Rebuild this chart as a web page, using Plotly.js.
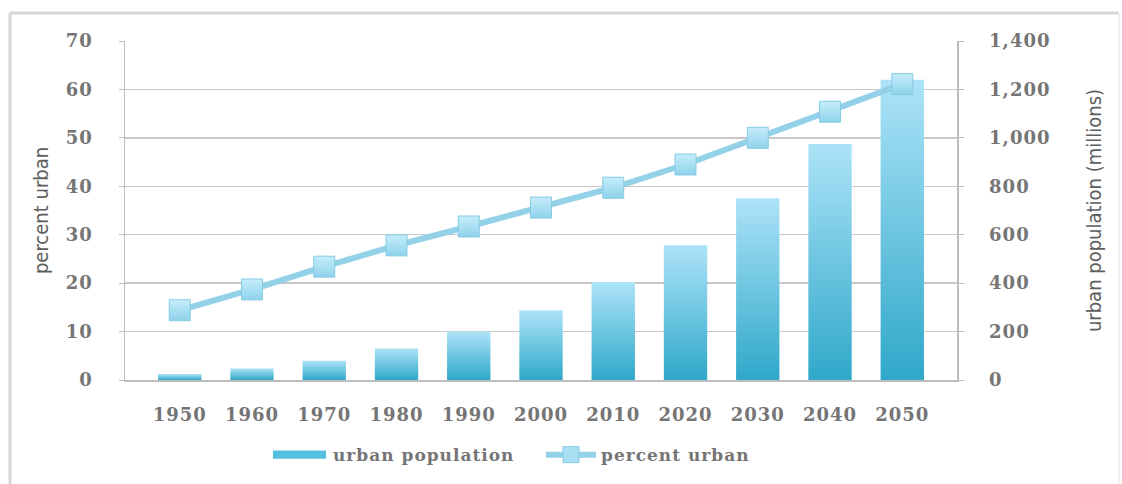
<!DOCTYPE html>
<html><head><meta charset="utf-8">
<script src="https://cdn.plot.ly/plotly-3.0.1.min.js"></script>
<style>
html,body{margin:0;padding:0;background:#fff;}
#chart{width:1122px;height:484px;}
.xtick text,.ytick text,.y2tick text{letter-spacing:1px;}
.legendtext{letter-spacing:1px;}
.barlayer .point path{fill:url(#barGrad) !important;}
.scatterlayer .points path{fill:url(#mkGrad) !important;}
.legend g.traces:first-child .legendpoints path{transform:translateX(20px) scale(5.5,0.7);transform-box:fill-box;transform-origin:center;}
</style></head><body>
<svg width="0" height="0" style="position:absolute">
<defs>
<linearGradient id="barGrad" x1="0" y1="0" x2="0" y2="1">
<stop offset="0" stop-color="#ade3f8"/><stop offset="1" stop-color="#2fa8c9"/>
</linearGradient>
<linearGradient id="mkGrad" x1="0" y1="0" x2="0" y2="1">
<stop offset="0" stop-color="#c6edfb"/><stop offset="1" stop-color="#8ed2eb"/>
</linearGradient>
</defs></svg>
<div id="chart"></div>
<script>
const years = ['1950','1960','1970','1980','1990','2000','2010','2020','2030','2040','2050'];
const urbanPopulation = [25, 48, 80, 130, 200, 288, 405, 556, 751, 975, 1240];
const percentUrban = [14.4, 18.7, 23.4, 27.8, 31.7, 35.6, 39.7, 44.5, 50.0, 55.4, 61.1];
const percentTicks = [0,10,20,30,40,50,60,70];
const popTicks = [0,200,400,600,800,1000,1200,1400];

const tickFont = {family:'DejaVu Serif, Liberation Serif, serif', size:18, color:'#757575', weight:'bold'};
const titleFont = {family:'DejaVu Sans Condensed, Liberation Sans Narrow, Roboto Condensed, sans-serif', size:20, color:'#5e5e5e'};
const axisGray = '#bdbdbd';

const traces = [
  {
    type:'bar', name:'urban population', x:years, y:urbanPopulation, yaxis:'y',
    marker:{color:'#55bfdf'}, hoverinfo:'x+y'
  },
  {
    type:'scatter', mode:'lines+markers', name:'percent urban', x:years, y:percentUrban, yaxis:'y2',
    line:{color:'#93d1e8', width:6},
    marker:{symbol:'square', size:21, color:'#a9dff3', line:{color:'#86cbe4', width:1}},
    hoverinfo:'x+y'
  }
];

const layout = {
  width:1122, height:484,
  margin:{l:125, r:165, t:41, b:103},
  paper_bgcolor:'#ffffff', plot_bgcolor:'#ffffff',
  bargap:0.4,
  showlegend:true,
  xaxis:{
    type:'category', showline:true, linecolor:axisGray, linewidth:1.5,
    ticks:'', showgrid:false, tickfont:tickFont, ticklabelstandoff:18, zeroline:false
  },
  yaxis:{
    side:'right', range:[0,1400], tickvals:popTicks, tickformat:',',
    showgrid:true, gridcolor:'#c8c8c8', gridwidth:1.5,
    showline:true, linecolor:axisGray, linewidth:1.5,
    ticks:'outside', ticklen:5, tickcolor:axisGray,
    tickfont:tickFont, ticklabelstandoff:22, zeroline:false,
    title:{text:'urban population (millions)', font:titleFont, standoff:37}
  },
  yaxis2:{
    side:'left', overlaying:'y', range:[0,70], tickvals:percentTicks,
    showgrid:false, showline:true, linecolor:axisGray, linewidth:1.5,
    ticks:'outside', ticklen:5, tickcolor:axisGray,
    tickfont:tickFont, ticklabelstandoff:22, zeroline:false,
    title:{text:'percent urban', font:titleFont, standoff:12}
  },
  legend:{
    orientation:'h', x:0.5, xanchor:'center', y:-0.218, yanchor:'middle',
    font:{family:'DejaVu Serif, Liberation Serif, serif', size:17, color:'#757575', weight:'bold'},
    itemwidth:50, entrywidth:203, traceorder:'normal', bgcolor:'rgba(0,0,0,0)'
  },
  shapes:[
    {type:'line', xref:'paper', yref:'paper', x0:-0.1382, x1:1.1947, y0:1.0824, y1:1.0824, line:{color:'#d6d6d6', width:3}, layer:'below'},
    {type:'line', xref:'paper', yref:'paper', x0:-0.1382, x1:-0.1382, y0:1.0824, y1:-0.4, line:{color:'#d6d6d6', width:3}, layer:'below'},
    {type:'line', xref:'paper', yref:'paper', x0:1.1947, x1:1.1947, y0:1.0824, y1:-0.4, line:{color:'#f0f0f0', width:2}, layer:'below'}
  ]
};

Plotly.newPlot('chart', traces, layout, {displayModeBar:false, staticPlot:true});
</script>
</body></html>
